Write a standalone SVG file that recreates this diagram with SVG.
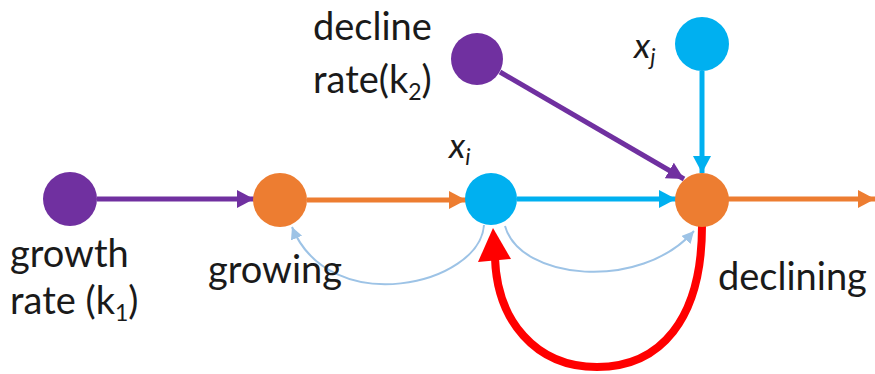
<svg xmlns="http://www.w3.org/2000/svg" width="875" height="374" viewBox="0 0 875 374">
<style>
.lbl{font-family:Lato,"Open Sans","DejaVu Sans",sans-serif;font-size:38px;fill:#1a1a1a}
.var{font-family:Lato,"Open Sans","DejaVu Sans",sans-serif;font-size:35px;font-style:italic;fill:#1a1a1a}
.sub{font-size:23px}
.p{fill:#7030A0}.o{fill:#ED7D31}.c{fill:#00B0F0}
</style>
<defs>
<marker id="ap" markerUnits="userSpaceOnUse" markerWidth="20" markerHeight="20" refX="17" refY="9" orient="auto"><path d="M0,0 L17,9 L0,18 Z" fill="#7030A0"/></marker>
<marker id="ao" markerUnits="userSpaceOnUse" markerWidth="20" markerHeight="20" refX="17" refY="9" orient="auto"><path d="M0,0 L17,9 L0,18 Z" fill="#ED7D31"/></marker>
<marker id="ac" markerUnits="userSpaceOnUse" markerWidth="20" markerHeight="20" refX="17" refY="9" orient="auto"><path d="M0,0 L17,9 L0,18 Z" fill="#00B0F0"/></marker>
<marker id="al" markerUnits="userSpaceOnUse" markerWidth="14" markerHeight="14" refX="12" refY="6" orient="auto"><path d="M0,0 L12,6 L0,12 Z" fill="#9DC3E6"/></marker>
</defs>
<g id="connectors" fill="none">
<line x1="97" y1="199" x2="254" y2="199" stroke="#7030A0" stroke-width="5" marker-end="url(#ap)"/>
<line x1="307" y1="200" x2="466" y2="200" stroke="#ED7D31" stroke-width="5" marker-end="url(#ao)"/>
<line x1="517" y1="199" x2="676" y2="199" stroke="#00B0F0" stroke-width="5" marker-end="url(#ac)"/>
<line x1="500" y1="72" x2="684" y2="179" stroke="#7030A0" stroke-width="5" marker-end="url(#ap)"/>
<line x1="702" y1="71" x2="702" y2="173" stroke="#00B0F0" stroke-width="5" marker-end="url(#ac)"/>
<line x1="728" y1="199" x2="875" y2="199" stroke="#ED7D31" stroke-width="5" marker-end="url(#ao)"/>
<path d="M484,225 C480,285 330,320 292,227" stroke="#9DC3E6" stroke-width="2" marker-end="url(#al)"/>
<path d="M505,226 C520,280 640,292 694,231" stroke="#9DC3E6" stroke-width="2" marker-end="url(#al)"/>
<path d="M702,226 C702,320 660,367 597,367 C535,367 497,320 495,258" stroke="#FF0000" stroke-width="8"/>
<polygon points="493,228 478,262 511,259" fill="#FF0000"/>
</g>
<g id="growth-rate"><circle cx="70" cy="199" r="27" class="p"/>
<text class="lbl" x="10" y="267">growth</text>
<text class="lbl" x="10" y="314">rate (k<tspan class="sub" dy="7">1</tspan><tspan dy="-7">)</tspan></text></g>
<g id="growing"><circle cx="280" cy="200" r="27" class="o"/>
<text class="lbl" x="208" y="283">growing</text></g>
<g id="xi"><circle cx="491" cy="199" r="26" class="c"/>
<text class="var" x="449" y="158">x<tspan class="sub" dy="7">i</tspan></text></g>
<g id="decline-rate"><circle cx="477" cy="59" r="26" class="p"/>
<text class="lbl" x="313" y="40">decline</text>
<text class="lbl" x="313" y="93">rate(k<tspan class="sub" dy="7">2</tspan><tspan dy="-7">)</tspan></text></g>
<g id="xj"><circle cx="702" cy="44" r="27" class="c"/>
<text class="var" x="634" y="58">x<tspan class="sub" dy="7">j</tspan></text></g>
<g id="declining"><circle cx="702" cy="200" r="27" class="o"/>
<text class="lbl" x="718" y="290">declining</text></g>
</svg>
